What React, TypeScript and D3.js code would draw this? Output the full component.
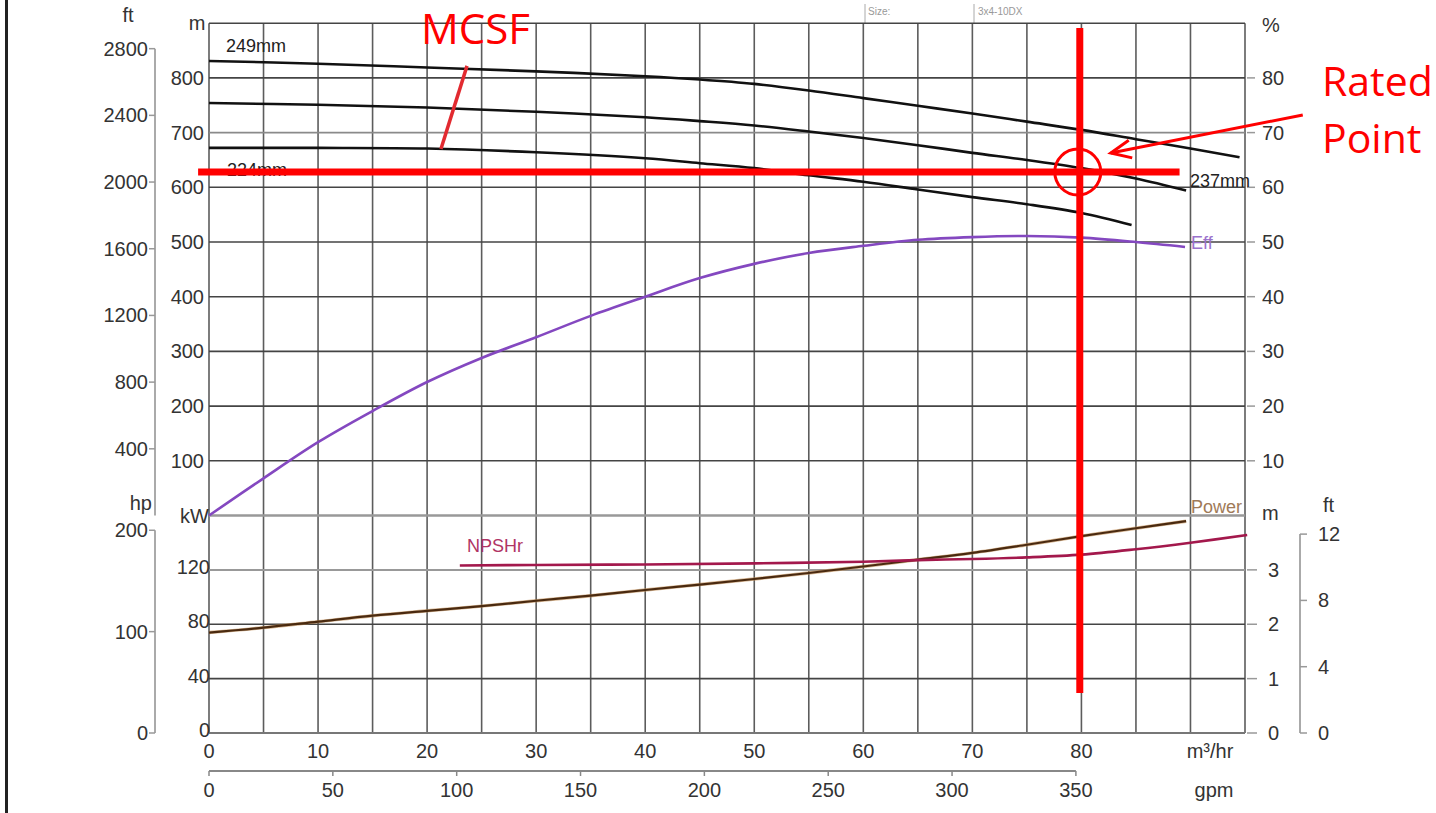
import React from 'react';
import * as d3 from 'd3';

const W = 1436;
const H = 813;

// ---- tick labels ----
const flowTicks = [0, 10, 20, 30, 40, 50, 60, 70, 80];
const flowGrid = [0, 5, 10, 15, 20, 25, 30, 35, 40, 45, 50, 55, 60, 65, 70, 75, 80, 85, 90, 95];
const gpmTicks = [0, 50, 100, 150, 200, 250, 300, 350];
const headMTicks = [100, 200, 300, 400, 500, 600, 700, 800];
const headGrid = [100, 200, 300, 400, 500, 600, 700, 800, 900];
const headFtTicks = [400, 800, 1200, 1600, 2000, 2400, 2800];
const effTicks = [10, 20, 30, 40, 50, 60, 70, 80];
const kwTicks = [0, 40, 80, 120];
const kwGrid = [40, 80, 120];
const hpTicks = [0, 100, 200];
const npshMTicks = [0, 1, 2, 3];
const npshFtTicks = [0, 4, 8, 12];

// ---- head curves (m) ----
const head249Q = [0, 10, 20, 30, 40, 45, 50, 55, 60, 65, 70, 75, 80, 85, 90, 94.5];
const head249H = [831, 826, 819, 812, 803, 797, 789, 777, 763, 749, 735, 720, 705, 688, 671, 655];
const head237Q = [0, 10, 20, 30, 40, 45, 50, 55, 60, 65, 70, 75, 80, 85, 89.6];
const head237H = [754, 751, 746, 738, 728, 721, 713, 702, 690, 677, 663, 650, 635, 616, 594];
const head224Q = [0, 10, 20, 30, 40, 45, 50, 55, 60, 65, 70, 75, 80, 84.6];
const head224H = [672, 672, 671, 664, 653, 644, 635, 622, 610, 596, 582, 569, 553, 531];

// ---- efficiency (%) ----
const effQ = [0, 5, 10, 15, 20, 25, 30, 35, 40, 45, 50, 55, 60, 65, 70, 75, 80, 85, 89.5];
const effV = [0, 6.8, 13.4, 19.1, 24.4, 28.8, 32.6, 36.5, 40, 43.4, 46, 48, 49.3, 50.4, 50.9, 51.1, 50.8, 50, 49.1];

// ---- power (kW) ----
const powerQ = [0, 5, 10, 15, 20, 25, 30, 35, 40, 45, 50, 55, 60, 65, 70, 75, 80, 85, 89.6];
const powerV = [73.9, 77.5, 81.9, 86.3, 89.9, 93.3, 97.3, 101, 105.2, 109.2, 113.3, 117.7, 122.5, 127.5, 132.5, 138.5, 144.8, 150.6, 155.8];

// ---- NPSHr (m) ----
const npshQ = [23, 30, 40, 50, 60, 65, 70, 75, 80, 85, 90, 95.2];
const npshV = [3.08, 3.09, 3.1, 3.12, 3.15, 3.18, 3.2, 3.23, 3.28, 3.38, 3.5, 3.64];

// ---- annotations ----
const ratedQ = 79.85;
const ratedH = 628;
const mcsfTop = [23.66, 822];
const mcsfBottom = [21.27, 670];

// ---- scales ----
const M_TO_FT = 3.28084;
const GPM_TO_M3H = 0.227125;
const HP_TO_KW = 0.7457;

const x = d3.scaleLinear().domain([0, 95]).range([209, 1245]);
const xGpm = d3.scaleLinear().domain([0, 95 / GPM_TO_M3H]).range([209, 1245]);
const yHead = d3.scaleLinear().domain([0, 900]).range([515.5, 23.2]);
const yHeadFt = d3.scaleLinear().domain([0, 900 * M_TO_FT]).range([515.5, 23.2]);
const yEff = d3.scaleLinear().domain([0, 90]).range([515.5, 23.2]);
const yKw = d3.scaleLinear().domain([0, 160]).range([733, 515.5]);
const yHp = d3.scaleLinear().domain([0, 160 / HP_TO_KW]).range([733, 515.5]);
const yNpsh = d3.scaleLinear().domain([0, 4]).range([733, 515.5]);
const yNpshFt = d3.scaleLinear().domain([0, 4 * M_TO_FT]).range([733, 515.5]);

const zip = (q: number[], v: number[]) => q.map((d, i) => [d, v[i]] as [number, number]);

const mkLine = (ys: d3.ScaleLinear<number, number>) =>
  d3
    .line<[number, number]>()
    .x((d) => x(d[0]))
    .y((d) => ys(d[1]))
    .curve(d3.curveCatmullRom.alpha(0.5));

const FONT = "'Liberation Sans', Arial, sans-serif";
const TXT = '#333';
const TS = 20;

export default function App() {
  const headLine = mkLine(yHead);
  const effLine = mkLine(yEff);
  const kwLine = mkLine(yKw);
  const npshLine = mkLine(yNpsh);

  const cx = x(ratedQ);
  const cy = yHead(ratedH);
  const tip: [number, number] = [cx + 31, cy - 19];
  const tail: [number, number] = [tip[0] + 192, tip[1] - 38];
  const ang = Math.atan2(tail[1] - tip[1], tail[0] - tip[0]);
  const wing = (a: number): [number, number] => [tip[0] + 22 * Math.cos(ang + a), tip[1] + 22 * Math.sin(ang + a)];
  const w1 = wing(0.42);
  const w2 = wing(-0.42);

  return (
    <svg width={W} height={H} style={{ display: 'block', position: 'absolute', left: 0, top: 0, background: '#fff' }}>
      <rect x={0} y={0} width={W} height={H} fill="#fff" />
      {/* left page border */}
      <line x1={6.5} x2={6.5} y1={0} y2={H} stroke="#222" strokeWidth={3} />

      {/* title block remnants */}
      <line x1={865} x2={865} y1={4} y2={23} stroke="#aaa" strokeWidth={1} />
      <line x1={974} x2={974} y1={4} y2={23} stroke="#aaa" strokeWidth={1} />
      <text x={868} y={15} fontFamily={FONT} fontSize={10} fill="#999">Size:</text>
      <text x={978} y={15} fontFamily={FONT} fontSize={10} fill="#999">3x4-10DX</text>

      {/* vertical grid */}
      {flowGrid.map((q) => (
        <line key={'vg' + q} x1={x(q)} x2={x(q)} y1={yHead(900)} y2={yKw(0)} stroke="#5c5c5c" strokeWidth={1.6} />
      ))}
      {/* upper horizontal grid */}
      {headGrid.map((h) => (
        <line key={'hg' + h} x1={x(0)} x2={x(95)} y1={yHead(h)} y2={yHead(h)} stroke={h === 700 ? '#8a8a8a' : '#444'} strokeWidth={1.6} />
      ))}
      <line x1={x(0)} x2={x(95)} y1={yHead(0)} y2={yHead(0)} stroke="#999" strokeWidth={2.5} />
      {/* lower horizontal grid */}
      {kwGrid.map((k) => (
        <line key={'kg' + k} x1={x(0)} x2={x(95)} y1={yKw(k)} y2={yKw(k)} stroke={k === 120 ? '#999' : '#444'} strokeWidth={k === 120 ? 2 : 1.6} />
      ))}
      <line x1={x(0)} x2={x(95)} y1={yKw(0)} y2={yKw(0)} stroke="#777" strokeWidth={2} />

      {/* left ft axis */}
      <line x1={155} x2={155} y1={yHeadFt(2800)} y2={yHead(0)} stroke="#aaa" strokeWidth={2} />
      {headFtTicks.map((f) => (
        <g key={'ft' + f}>
          <line x1={149} x2={155} y1={yHeadFt(f)} y2={yHeadFt(f)} stroke="#999" strokeWidth={1.5} />
          <text x={148} y={yHeadFt(f)} dy="0.35em" textAnchor="end" fontFamily={FONT} fontSize={TS} fill={TXT}>{f}</text>
        </g>
      ))}
      <text x={128} y={22} textAnchor="middle" fontFamily={FONT} fontSize={TS} fill={TXT}>ft</text>

      {/* left m axis labels */}
      {headMTicks.map((h) => (
        <text key={'m' + h} x={204} y={yHead(h)} dy="0.35em" textAnchor="end" fontFamily={FONT} fontSize={TS} fill={TXT}>{h}</text>
      ))}
      <text x={197} y={23} dy="0.35em" textAnchor="middle" fontFamily={FONT} fontSize={TS} fill={TXT}>m</text>
      <text x={209} y={yHead(0)} dy="0.35em" textAnchor="end" fontFamily={FONT} fontSize={TS} fill={TXT}>kW</text>

      {/* hp axis */}
      <line x1={155} x2={155} y1={yHp(200)} y2={yHp(0)} stroke="#aaa" strokeWidth={2} />
      {hpTicks.map((p) => (
        <g key={'hp' + p}>
          <line x1={149} x2={155} y1={yHp(p)} y2={yHp(p)} stroke="#999" strokeWidth={1.5} />
          <text x={148} y={yHp(p)} dy="0.35em" textAnchor="end" fontFamily={FONT} fontSize={TS} fill={TXT}>{p}</text>
        </g>
      ))}
      <text x={152} y={503} dy="0.35em" textAnchor="end" fontFamily={FONT} fontSize={TS} fill={TXT}>hp</text>

      {/* kW labels */}
      {kwTicks.map((k) => (
        <text key={'kw' + k} x={210} y={yKw(k) - 3} dy="0.35em" textAnchor="end" fontFamily={FONT} fontSize={TS} fill={TXT}>{k}</text>
      ))}

      {/* right % axis */}
      {effTicks.map((e) => (
        <g key={'e' + e}>
          <line x1={1247} x2={1255} y1={yEff(e)} y2={yEff(e)} stroke="#999" strokeWidth={1.5} />
          <text x={1262} y={yEff(e)} dy="0.35em" fontFamily={FONT} fontSize={TS} fill={TXT}>{e}</text>
        </g>
      ))}
      <text x={1262} y={25} dy="0.35em" fontFamily={FONT} fontSize={TS} fill={TXT}>%</text>

      {/* right NPSH m axis */}
      {npshMTicks.map((n) => (
        <g key={'nm' + n}>
          <line x1={1247} x2={1257} y1={yNpsh(n)} y2={yNpsh(n)} stroke="#999" strokeWidth={1.5} />
          <text x={1268} y={yNpsh(n)} dy="0.35em" fontFamily={FONT} fontSize={TS} fill={TXT}>{n}</text>
        </g>
      ))}
      <text x={1262} y={513} dy="0.35em" fontFamily={FONT} fontSize={TS} fill={TXT}>m</text>

      {/* right NPSH ft axis */}
      <line x1={1300} x2={1300} y1={yNpshFt(12)} y2={yNpshFt(0)} stroke="#aaa" strokeWidth={2} />
      {npshFtTicks.map((n) => (
        <g key={'nf' + n}>
          <line x1={1300} x2={1307} y1={yNpshFt(n)} y2={yNpshFt(n)} stroke="#999" strokeWidth={1.5} />
          <text x={1318} y={yNpshFt(n)} dy="0.35em" fontFamily={FONT} fontSize={TS} fill={TXT}>{n}</text>
        </g>
      ))}
      <text x={1323} y={505} dy="0.35em" fontFamily={FONT} fontSize={TS} fill={TXT}>ft</text>

      {/* bottom flow axis labels */}
      {flowTicks.map((q) => (
        <text key={'q' + q} x={x(q)} y={751} dy="0.35em" textAnchor="middle" fontFamily={FONT} fontSize={TS} fill={TXT}>{q}</text>
      ))}
      <text x={1210} y={751} dy="0.35em" textAnchor="middle" fontFamily={FONT} fontSize={TS} fill={TXT}>m³/hr</text>

      {/* gpm axis */}
      <line x1={xGpm(0)} x2={xGpm(350)} y1={771} y2={771} stroke="#888" strokeWidth={2} />
      {gpmTicks.map((g) => (
        <g key={'g' + g}>
          <line x1={xGpm(g)} x2={xGpm(g)} y1={771} y2={776} stroke="#888" strokeWidth={1.5} />
          <text x={xGpm(g)} y={790} dy="0.35em" textAnchor="middle" fontFamily={FONT} fontSize={TS} fill={TXT}>{g}</text>
        </g>
      ))}
      <text x={1214} y={790} dy="0.35em" textAnchor="middle" fontFamily={FONT} fontSize={TS} fill={TXT}>gpm</text>

      {/* head curves */}
      <path d={headLine(zip(head249Q, head249H)) || ''} fill="none" stroke="#111" strokeWidth={2.6} />
      <path d={headLine(zip(head237Q, head237H)) || ''} fill="none" stroke="#111" strokeWidth={2.6} />
      <path d={headLine(zip(head224Q, head224H)) || ''} fill="none" stroke="#111" strokeWidth={2.6} />
      <text x={226} y={52} fontFamily={FONT} fontSize={18} fill="#222">249mm</text>
      <text x={1190} y={187} fontFamily={FONT} fontSize={18} fill="#222">237mm</text>
      <text x={227} y={176} fontFamily={FONT} fontSize={18} fill="#222">224mm</text>

      {/* efficiency */}
      <path d={effLine(zip(effQ, effV)) || ''} fill="none" stroke="#8448c0" strokeWidth={2.6} />
      <text x={1191} y={243} dy="0.35em" fontFamily={FONT} fontSize={18} fill="#9a72cc">Eff</text>

      {/* power */}
      <path d={kwLine(zip(powerQ, powerV)) || ''} fill="none" stroke="#c08a50" strokeWidth={3.4} opacity={0.6} />
      <path d={kwLine(zip(powerQ, powerV)) || ''} fill="none" stroke="#4a2a10" strokeWidth={2.2} />
      <text x={1191} y={507} dy="0.35em" fontFamily={FONT} fontSize={18} fill="#a07a58">Power</text>

      {/* NPSHr */}
      <path d={npshLine(zip(npshQ, npshV)) || ''} fill="none" stroke="#a3184c" strokeWidth={2.6} />
      <text x={467} y={546} dy="0.35em" fontFamily={FONT} fontSize={18} fill="#b03464">NPSHr</text>

      {/* red annotations */}
      <line x1={x(mcsfTop[0])} y1={yHead(mcsfTop[1])} x2={x(mcsfBottom[0])} y2={yHead(mcsfBottom[1])} stroke="#e22a30" strokeWidth={3.5} />
      <text x={421} y={44} fontFamily="'Open Sans', sans-serif" fontSize={42} fill="#ff0000">MCSF</text>
      <line x1={x(-1)} x2={x(89)} y1={cy} y2={cy} stroke="#ff0000" strokeWidth={7} />
      <line x1={cx} x2={cx} y1={yHead(891)} y2={yKw(29.4)} stroke="#ff0000" strokeWidth={7} />
      <circle cx={cx - 2} cy={cy} r={23} fill="none" stroke="#ff0000" strokeWidth={3} />
      <line x1={tail[0]} y1={tail[1]} x2={tip[0]} y2={tip[1]} stroke="#ff0000" strokeWidth={3} />
      <polyline points={`${w1[0]},${w1[1]} ${tip[0]},${tip[1]} ${w2[0]},${w2[1]}`} fill="none" stroke="#ff0000" strokeWidth={3} />
      <text x={1322} y={96} fontFamily="'Open Sans', sans-serif" fontSize={41} fill="#ff0000">Rated</text>
      <text x={1322} y={153} fontFamily="'Open Sans', sans-serif" fontSize={41} fill="#ff0000">Point</text>
    </svg>
  );
}
